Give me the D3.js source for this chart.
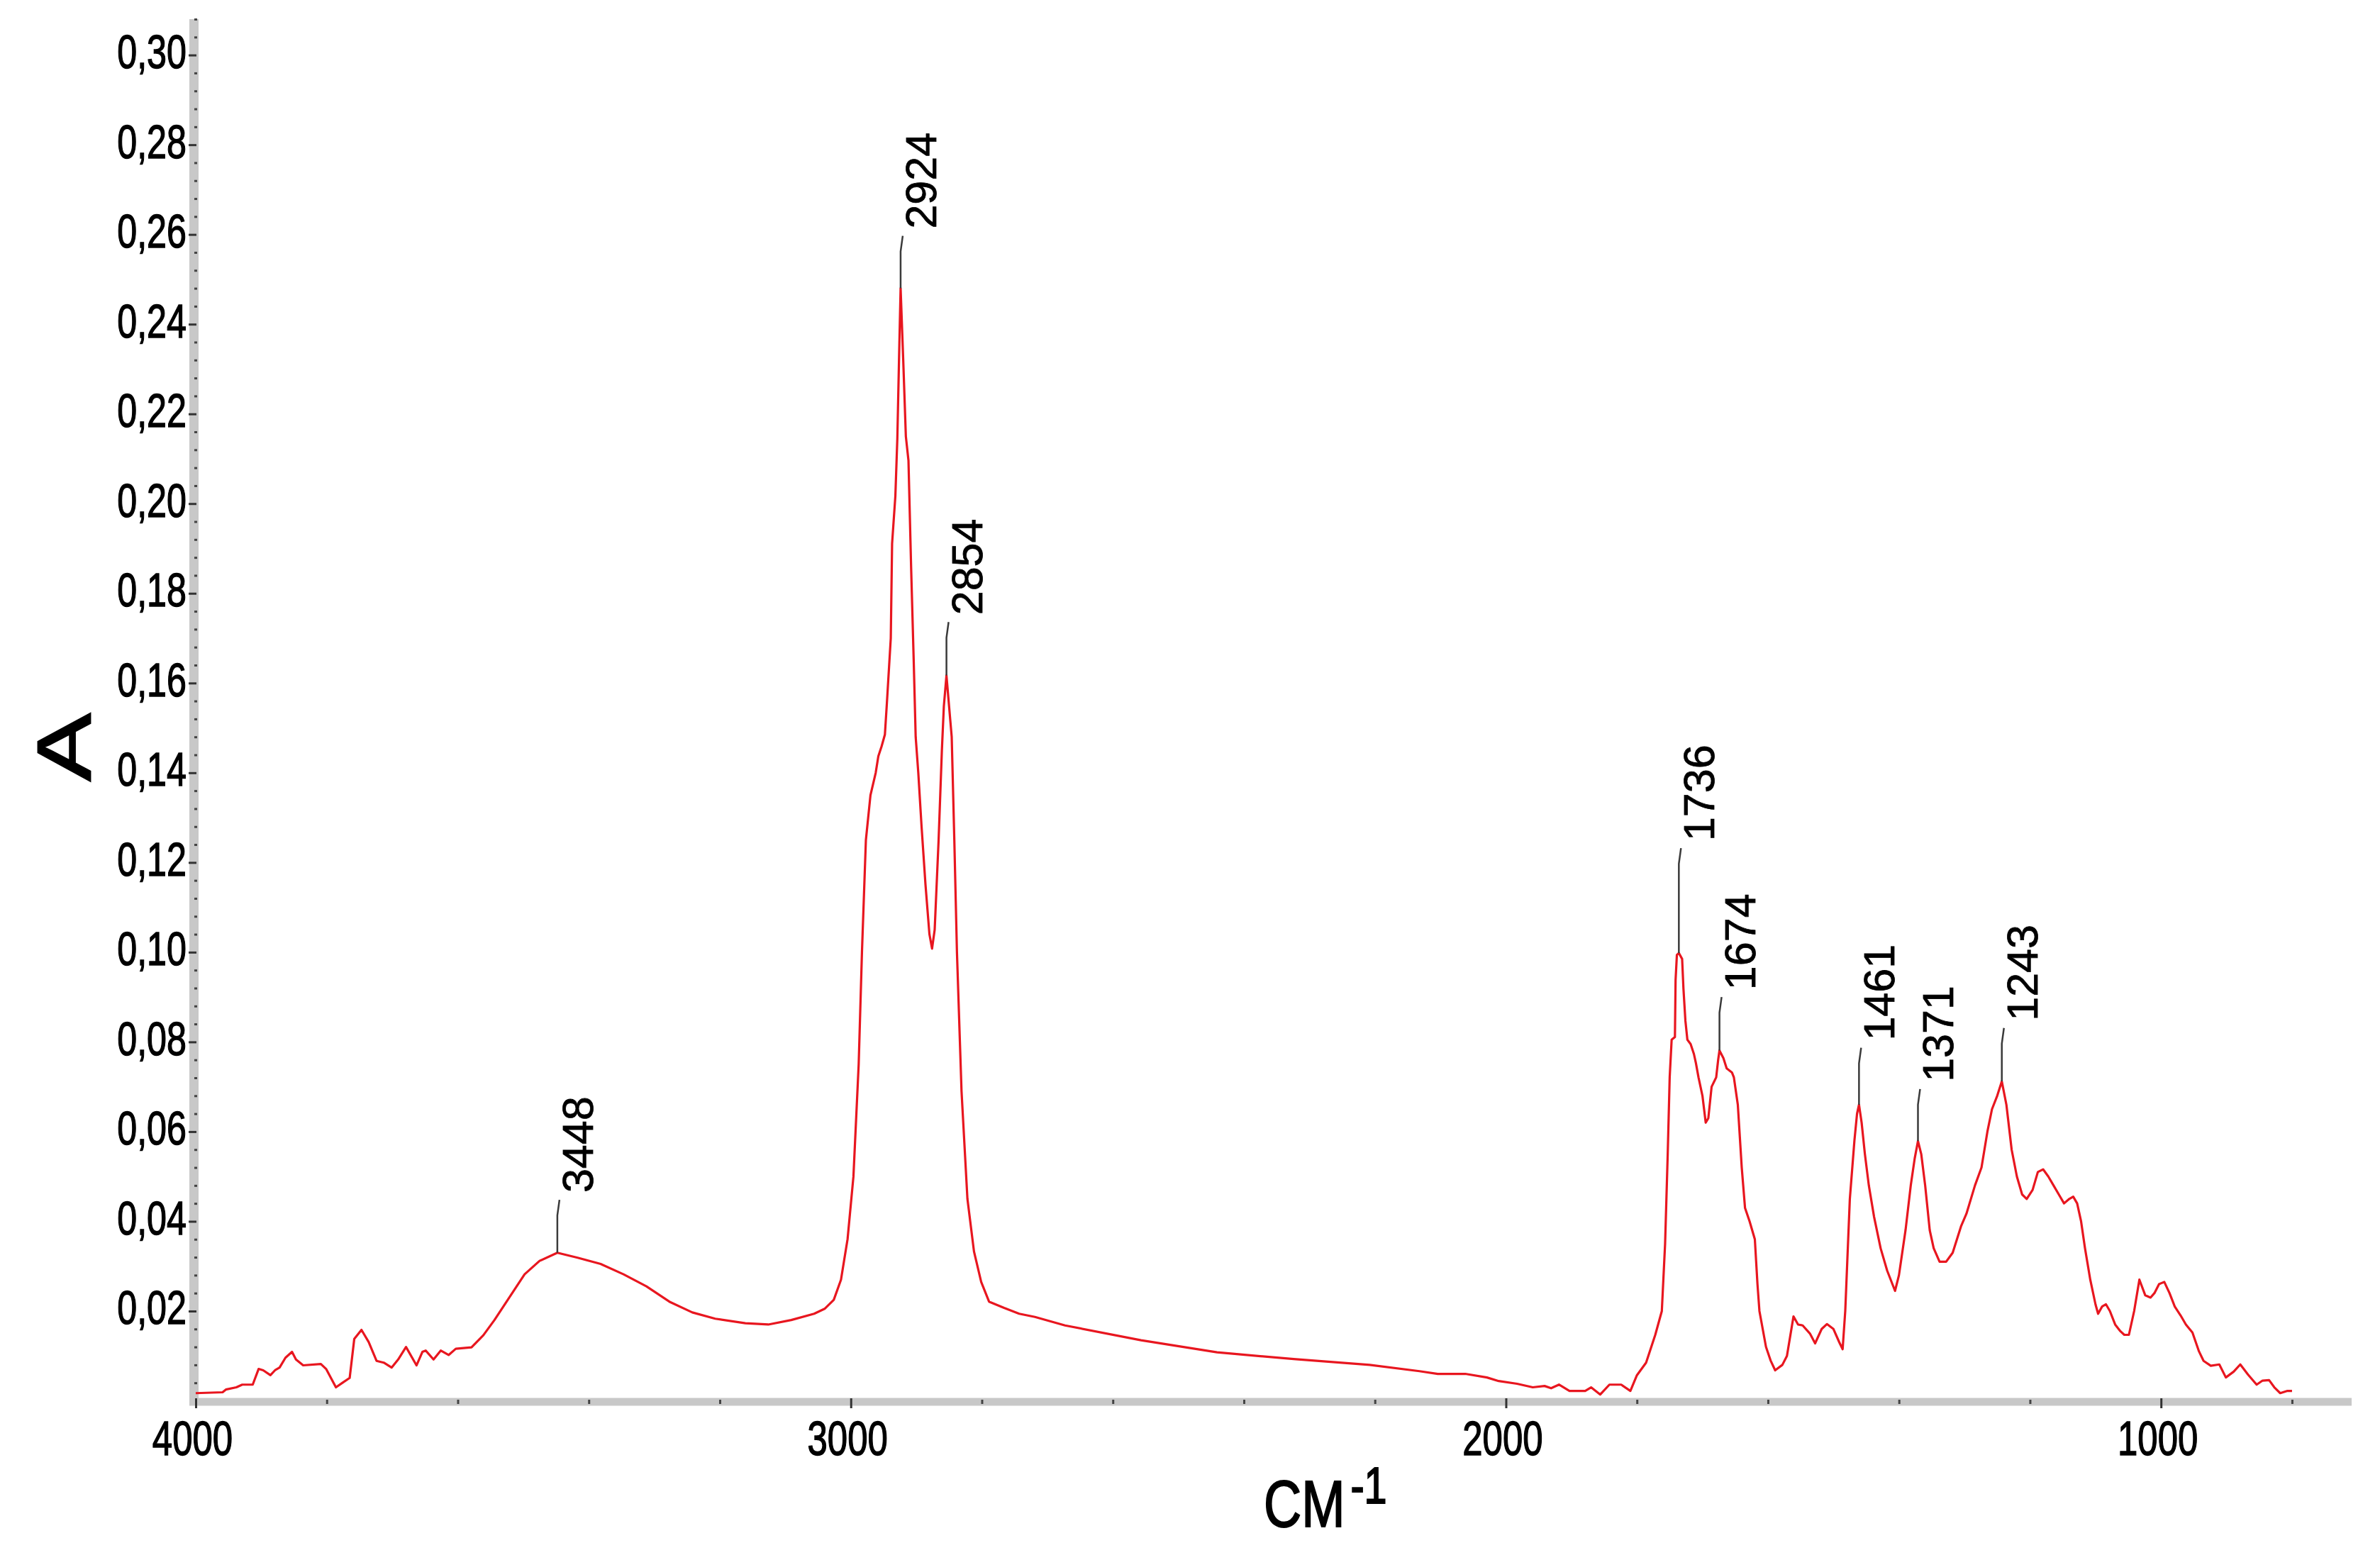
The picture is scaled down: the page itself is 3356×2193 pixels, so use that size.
<!DOCTYPE html>
<html><head><meta charset="utf-8">
<script src="https://cdn.jsdelivr.net/npm/d3@7"></script>
<style>html,body{margin:0;padding:0;background:#fff;} svg{display:block;}</style>
</head><body>
<svg id="chart" width="3356" height="2193"></svg>
<script>
// ---- data ----
const wavenumbers = [4000,3959,3954,3938,3929,3913,3904,3897,3886,3879,3872,3863,3853,3847,3836,3809,3801,3786,3776,3765,3758,3747,3736,3724,3713,3701,3691,3679,3663,3654,3649,3637,3626,3614,3603,3579,3561,3544,3521,3498,3475,3448,3417,3382,3347,3312,3277,3242,3207,3161,3126,3091,3056,3040,3026,3015,3005,2996,2988,2983,2977,2970,2962,2958,2953,2948,2945,2939,2937,2932,2929,2926,2924,2920,2916,2912,2908,2904,2901,2897,2892,2886,2880,2876,2872,2866,2861,2858,2854,2850,2846,2842,2838,2831,2822,2812,2801,2789,2766,2743,2719,2673,2557,2441,2324,2208,2132,2104,2062,2029,2011,1983,1959,1941,1931,1919,1903,1879,1870,1856,1842,1824,1810,1800,1786,1772,1762,1757,1753,1750,1747,1742,1741,1739,1736,1731,1729,1726,1723,1718,1713,1710,1706,1700,1695,1691,1686,1679,1676,1674,1668,1663,1655,1652,1646,1640,1635,1628,1620,1616,1613,1603,1596,1589,1578,1571,1561,1554,1547,1536,1528,1518,1510,1500,1491,1486,1482,1475,1468,1464,1461,1457,1452,1446,1438,1428,1418,1410,1406,1400,1390,1382,1376,1371,1366,1360,1353,1347,1338,1328,1318,1305,1297,1284,1274,1265,1258,1250,1243,1236,1228,1220,1212,1205,1196,1188,1180,1172,1164,1156,1148,1140,1134,1128,1122,1116,1108,1100,1096,1090,1084,1078,1070,1062,1056,1049,1041,1033,1024,1016,1010,1003,995,987,979,970,962,952,942,935,924,911,901,889,879,867,854,845,835,827,818,807,800];
const absorbance = [0.0017,0.0019,0.0025,0.003,0.0036,0.0036,0.0071,0.0068,0.0057,0.0068,0.0074,0.0096,0.0109,0.0092,0.0079,0.0082,0.0071,0.003,0.004,0.0051,0.0138,0.0158,0.0131,0.0089,0.0085,0.0074,0.0092,0.012,0.0079,0.0109,0.0112,0.0092,0.0112,0.0102,0.0116,0.0119,0.0146,0.018,0.0231,0.0282,0.0312,0.033,0.0319,0.0305,0.0282,0.0255,0.0221,0.0197,0.0183,0.0173,0.017,0.018,0.0194,0.0205,0.0225,0.027,0.036,0.05,0.075,0.10,0.125,0.135,0.140,0.1437,0.1459,0.1485,0.1554,0.170,0.1911,0.2017,0.2145,0.235,0.248,0.232,0.215,0.2096,0.186,0.165,0.148,0.140,0.128,0.115,0.104,0.1008,0.105,0.125,0.145,0.1548,0.1617,0.1548,0.148,0.125,0.100,0.069,0.045,0.0333,0.0265,0.0221,0.0207,0.0194,0.0187,0.0168,0.0135,0.0108,0.0093,0.008,0.0066,0.006,0.006,0.0052,0.0044,0.0038,0.003,0.0033,0.0028,0.0036,0.0022,0.0022,0.003,0.0014,0.0036,0.0036,0.0022,0.0057,0.0085,0.0147,0.02,0.035,0.055,0.0721,0.0805,0.0811,0.0938,0.0994,0.0998,0.0985,0.0919,0.0847,0.0805,0.0795,0.0773,0.0753,0.0721,0.068,0.062,0.063,0.070,0.0721,0.076,0.0781,0.0764,0.0741,0.0732,0.0721,0.066,0.052,0.043,0.040,0.036,0.026,0.020,0.012,0.009,0.0068,0.008,0.010,0.0188,0.017,0.0168,0.015,0.0128,0.016,0.0171,0.016,0.013,0.0115,0.020,0.045,0.058,0.064,0.066,0.062,0.055,0.048,0.041,0.034,0.029,0.026,0.0245,0.028,0.038,0.048,0.054,0.0579,0.055,0.048,0.038,0.034,0.031,0.031,0.033,0.039,0.0417,0.048,0.052,0.060,0.065,0.068,0.0712,0.066,0.056,0.050,0.046,0.045,0.047,0.051,0.0516,0.050,0.048,0.046,0.044,0.045,0.0455,0.044,0.040,0.034,0.027,0.0215,0.0194,0.021,0.0215,0.020,0.017,0.0155,0.0147,0.0147,0.020,0.027,0.0235,0.023,0.024,0.026,0.0265,0.024,0.021,0.019,0.017,0.0152,0.011,0.0089,0.0078,0.0081,0.0052,0.0065,0.0081,0.0058,0.0036,0.0045,0.0046,0.003,0.0017,0.0022,0.0022];

const yTickValues = [0.02,0.04,0.06,0.08,0.10,0.12,0.14,0.16,0.18,0.20,0.22,0.24,0.26,0.28,0.30];
const yTickLabels = ["0,02","0,04","0,06","0,08","0,10","0,12","0,14","0,16","0,18","0,20","0,22","0,24","0,26","0,28","0,30"];
const xTickValues = [4000,3000,2000,1000];
const xTickLabels = ["4000","3000","2000","1000"];
const xMinorValues = [3800,3600,3400,3200,2800,2600,2400,2200,1800,1600,1400,1200,800];

const peakPositions = [3448,2924,2854,1736,1674,1461,1371,1243];
const peakLabels = ["3448","2924","2854","1736","1674","1461","1371","1243"];
const leaderRise = [0.0118,0.0117,0.0119,0.0234,0.0119,0.0127,0.0116,0.0119];

const xTitle = "CM";
const xTitleSup = "-1";
const yTitle = "A";

// ---- drawing ----
const svg = d3.select("#chart");
const FONT = "'Liberation Sans', Arial, Helvetica, sans-serif";
svg.append("rect").attr("width",3356).attr("height",2193).attr("fill","#fff");

const x = d3.scaleLinear().domain([4000,709]).range([276,3316]);
const y = d3.scaleLinear().domain([0,0.308]).range([1975.5,27]);

// axis bands
svg.append("line").attr("x1",273.5).attr("x2",273.5).attr("y1",y(0.308)).attr("y2",1982)
  .attr("stroke","#c8c8c8").attr("stroke-width",13);
svg.append("line").attr("x1",267).attr("x2",x(709)).attr("y1",1977).attr("y2",1977)
  .attr("stroke","#c8c8c8").attr("stroke-width",11);

// y axis
const yMinor = d3.range(1,78).filter(i=>i%5!==0).map(i=>i*0.004);
const gyMinor = svg.append("g").attr("transform","translate(278,0)")
  .call(d3.axisLeft(y).tickValues(yMinor).tickSize(4).tickFormat(""));
gyMinor.select(".domain").remove();
gyMinor.selectAll(".tick line").attr("stroke","#444").attr("stroke-width",3);

const gy = svg.append("g").attr("transform","translate(277,0)")
  .call(d3.axisLeft(y).tickValues(yTickValues).tickSize(11).tickFormat((d,i)=>yTickLabels[i]));
gy.select(".domain").remove();
gy.attr("font-size",67).attr("font-family",FONT);
gy.selectAll(".tick line").attr("stroke","#333").attr("stroke-width",3);
gy.selectAll(".tick text").attr("x",null).attr("dy",null).attr("fill","#000")
  .attr("stroke","#000").attr("stroke-width",1.4)
  .attr("transform","translate(-14,18) scale(0.75,1)");

// x axis
const gxMinor = svg.append("g").attr("transform","translate(0,1974)")
  .call(d3.axisBottom(x).tickValues(xMinorValues).tickSize(6).tickFormat(""));
gxMinor.select(".domain").remove();
gxMinor.selectAll(".tick line").attr("stroke","#444").attr("stroke-width",3);

const gx = svg.append("g").attr("transform","translate(0,1972)")
  .call(d3.axisBottom(x).tickValues(xTickValues).tickSize(14).tickFormat((d,i)=>xTickLabels[i]));
gx.select(".domain").remove();
gx.attr("font-size",68).attr("font-family",FONT);
gx.selectAll(".tick line").attr("stroke","#333").attr("stroke-width",3);
gx.selectAll(".tick text").attr("y",null).attr("dy",null).attr("fill","#000")
  .attr("stroke","#000").attr("stroke-width",1.4)
  .attr("transform","translate(-5,80) scale(0.75,1)");

// spectrum
const pts = wavenumbers.map((w,i)=>[w,absorbance[i]]);
const line = d3.line().x(d=>x(d[0])).y(d=>y(d[1]));
svg.append("path").datum(pts).attr("d",line).attr("fill","none")
  .attr("stroke","#e8161f").attr("stroke-width",3.2).attr("stroke-linejoin","round");

// peak annotations
peakPositions.forEach((p,i)=>{
  const a = absorbance[wavenumbers.indexOf(p)];
  const px = x(p), py = y(a), top = y(a + leaderRise[i]);
  svg.append("path")
    .attr("d",`M${px},${py} V${top+22} L${px+3},${top}`)
    .attr("fill","none").attr("stroke","#3a3a3a").attr("stroke-width",2.5);
  svg.append("text")
    .attr("transform",`translate(${px+50},${top-10}) rotate(-90)`)
    .attr("font-family",FONT).attr("font-size",61).attr("fill","#000")
    .attr("stroke","#000").attr("stroke-width",0.8)
    .attr("text-anchor","start").text(peakLabels[i]);
});

// axis titles
const xt = svg.append("g").attr("transform","translate(1782,2153) scale(0.8,1)");
const xtText = xt.append("text").attr("font-family",FONT).attr("font-size",92).attr("fill","#000")
  .attr("stroke","#000").attr("stroke-width",2);
xtText.append("tspan").text(xTitle);
xtText.append("tspan").attr("font-size",72).attr("dx",10).attr("dy",-33).text(xTitleSup);

svg.append("text")
  .attr("transform","translate(128,1054) scale(0.75,1) rotate(-90)")
  .attr("font-family",FONT).attr("font-size",144).attr("fill","#000")
  .attr("stroke","#000").attr("stroke-width",2.5)
  .attr("text-anchor","middle").text(yTitle);
</script>
</body></html>
